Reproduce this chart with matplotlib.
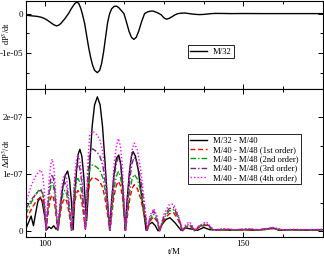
import numpy as np
import matplotlib
matplotlib.use('Agg')
import matplotlib.pyplot as plt
from matplotlib.ticker import MultipleLocator, FuncFormatter

plt.rcParams['font.family'] = ['Liberation Serif', 'DejaVu Serif']
plt.rcParams['mathtext.fontset'] = 'stix'

# Panel superior: dP^3/dt para M/32 (en unidades de 1e-5)
t_top = [95.2, 96.5, 98, 99, 100, 100.8, 101.5, 102.2, 102.9, 103.5, 104, 104.5,
         105, 105.5, 106, 106.5, 107, 107.5, 108, 108.5, 109, 109.4, 110, 110.5,
         111, 111.5, 112, 112.5, 113.2, 113.8, 114.3, 114.8, 115.3, 115.8, 116.3,
         116.8, 117.4, 118, 118.6, 119.3, 119.9, 120.5, 121.2, 121.8, 122.4, 123,
         123.6, 124.3, 125.1, 125.8, 126.5, 127.2, 127.9, 128.6, 129.3, 130,
         130.6, 131.3, 132, 132.8, 133.5, 134.3, 135.2, 136, 137, 138, 139, 140,
         141, 142, 143, 145, 147, 150, 155, 160, 170]
dp_top = [-0.04, -0.055, -0.07, -0.09, -0.13, -0.18, -0.23, -0.28, -0.31, -0.29,
          -0.25, -0.19, -0.13, -0.06, 0.01, 0.10, 0.18, 0.25, 0.29, 0.26, 0.14,
          0.0, -0.25, -0.55, -0.85, -1.10, -1.30, -1.43, -1.49, -1.43, -1.25,
          -0.95, -0.58, -0.22, 0.0, 0.12, 0.18, 0.19, 0.15, 0.07, 0.0, -0.20,
          -0.45, -0.60, -0.65, -0.60, -0.45, -0.22, 0.0, 0.04, 0.06, 0.065, 0.04,
          0.01, -0.03, -0.11, -0.14, -0.12, -0.08, -0.03, 0.0, 0.01, 0.015, 0.005,
          -0.01, -0.02, -0.025, -0.02, -0.01, 0.0, 0.005, 0.003, 0.0, 0.002, 0.0,
          0.0, 0.0]

# Panel inferior: diferencias (en unidades de 1e-7)
t_black = [95.2, 96, 96.5, 97.1, 97.6, 98.2, 98.8, 99.3, 99.9, 100.4, 101, 101.6,
           102.2, 102.8, 103.4, 103.9, 104.5, 105.1, 105.7, 106.2, 106.7, 107.1,
           107.5, 108, 108.4, 108.8, 109.3, 109.8, 110.2, 110.5, 110.9, 111.4,
           111.9, 112.5, 113.2, 113.9, 114.5, 115.1, 115.7, 116.3, 116.8, 117.4,
           118, 118.6, 119.1, 119.7, 120.2, 120.7, 121.3, 121.8, 122.2, 122.8,
           123.5, 124.3, 125, 125.5, 126.2, 127, 127.8, 128.5, 129.5, 130.5,
           131.5, 132.8, 134.3, 135.5, 137, 138.5, 140, 141.5, 144, 147, 150,
           153, 155.5, 157.4, 159, 162, 166, 170]
d_black = [0.05, 0.18, 0.27, 0.10, 0.30, 0.52, 0.60, 0.52, 0.28, 0.03, 0.08, 0.05,
           0.10, 0.04, 0.08, 0.45, 0.78, 0.98, 1.06, 0.90, 0.50, 0.03, 0.60, 1.10,
           1.36, 1.44, 1.32, 0.95, 0.45, 0.19, 0.65, 1.30, 1.85, 2.22, 2.36, 2.22,
           1.85, 1.25, 0.60, 0.02, 0.55, 1.00, 1.28, 1.34, 1.18, 0.65, 0.02, 0.55,
           1.05, 1.32, 1.40, 1.32, 1.08, 0.65, 0.28, 0.02, 0.12, 0.16, 0.10, 0.01,
           0.12, 0.21, 0.24, 0.15, 0.02, 0.06, 0.04, 0.02, 0.07, 0.03, 0.03, 0.02,
           0.03, 0.02, 0.04, 0.06, 0.02, 0.03, 0.02, 0.03]

t_col = [95.2, 96.5, 97.5, 98.3, 99, 99.4, 99.8, 100.05,
         100.3, 100.65, 101.05, 101.45, 101.8, 102.15, 102.5, 102.85,
         103.2, 103.65, 104.1, 104.55, 105, 105.45, 105.85, 106.3,
         106.7, 107.1, 107.5, 107.9, 108.3, 108.8, 109.3, 109.75,
         110.2, 110.5, 110.8, 111.3, 112, 113, 113.8, 114.6, 115.2, 115.8,
         116.4, 116.9, 117.4, 118, 118.5, 119, 119.5, 119.9,
         120.3, 120.85, 121.4, 121.95, 122.5, 123.3, 124.1, 124.95,
         125.8, 126.5, 127.4, 128.2, 128.9, 130, 131.3, 132.4, 133.6, 134.7,
         135.5, 136.4, 137.1, 137.7, 138.8, 140.6, 141.6, 142.5, 145, 148, 151,
         154, 157.4, 160, 163, 166, 170]
d_1st = [0.20, 0.38, 0.50, 0.57, 0.60, 0.55, 0.40, 0.22,
         0.02, 0.24, 0.45, 0.59, 0.64, 0.59, 0.45, 0.24,
         0.02, 0.22, 0.41, 0.53, 0.58, 0.53, 0.41, 0.22,
         0.02, 0.27, 0.51, 0.66, 0.72, 0.66, 0.51, 0.27,
         0.03, 0.35, 0.62, 0.88, 0.95, 0.92, 0.88, 0.76, 0.55, 0.28,
         0.02, 0.33, 0.62, 0.81, 0.88, 0.81, 0.62, 0.33,
         0.02, 0.31, 0.58, 0.75, 0.82, 0.75, 0.58, 0.31,
         0.02, 0.18, 0.26, 0.18, 0.01, 0.20, 0.31, 0.33, 0.20, 0.01,
         0.07, 0.10, 0.06, 0.01, 0.07, 0.11, 0.06, 0.02, 0.03, 0.02, 0.03,
         0.02, 0.05, 0.02, 0.03, 0.02, 0.03]
d_2nd = [0.30, 0.50, 0.63, 0.71, 0.74, 0.68, 0.50, 0.27,
         0.02, 0.33, 0.61, 0.79, 0.86, 0.79, 0.61, 0.33,
         0.02, 0.27, 0.51, 0.66, 0.72, 0.66, 0.51, 0.27,
         0.02, 0.35, 0.66, 0.86, 0.93, 0.86, 0.66, 0.35,
         0.03, 0.42, 0.78, 1.10, 1.17, 1.13, 1.08, 0.94, 0.70, 0.36,
         0.02, 0.40, 0.75, 0.97, 1.05, 0.97, 0.75, 0.40,
         0.02, 0.38, 0.71, 0.92, 1.00, 0.92, 0.71, 0.38,
         0.02, 0.21, 0.30, 0.21, 0.01, 0.24, 0.36, 0.38, 0.24, 0.01,
         0.08, 0.11, 0.07, 0.01, 0.08, 0.13, 0.07, 0.02, 0.03, 0.02, 0.04,
         0.02, 0.05, 0.02, 0.03, 0.02, 0.03]
d_3rd = [0.40, 0.55, 0.64, 0.70, 0.72, 0.66, 0.50, 0.27,
         0.02, 0.38, 0.71, 0.92, 1.00, 0.92, 0.71, 0.38,
         0.02, 0.33, 0.61, 0.79, 0.86, 0.79, 0.61, 0.33,
         0.02, 0.46, 0.85, 1.10, 1.20, 1.10, 0.85, 0.46,
         0.04, 0.52, 0.98, 1.38, 1.45, 1.40, 1.33, 1.15, 0.85, 0.44,
         0.02, 0.49, 0.92, 1.20, 1.30, 1.20, 0.92, 0.49,
         0.02, 0.49, 0.92, 1.20, 1.30, 1.20, 0.92, 0.49,
         0.02, 0.25, 0.36, 0.25, 0.01, 0.27, 0.40, 0.42, 0.27, 0.01,
         0.09, 0.13, 0.08, 0.01, 0.09, 0.14, 0.08, 0.02, 0.04, 0.03, 0.04,
         0.03, 0.06, 0.03, 0.03, 0.03, 0.03]
d_4th = [0.50, 0.80, 0.95, 1.04, 1.08, 1.00, 0.75, 0.40,
         0.03, 0.48, 0.90, 1.17, 1.27, 1.17, 0.90, 0.48,
         0.03, 0.38, 0.71, 0.92, 1.00, 0.92, 0.71, 0.38,
         0.03, 0.51, 0.96, 1.24, 1.35, 1.24, 0.96, 0.51,
         0.05, 0.62, 1.20, 1.70, 1.76, 1.70, 1.62, 1.38, 1.02, 0.52,
         0.03, 0.62, 1.16, 1.50, 1.63, 1.50, 1.16, 0.62,
         0.03, 0.59, 1.10, 1.43, 1.55, 1.43, 1.10, 0.59,
         0.03, 0.28, 0.40, 0.28, 0.02, 0.30, 0.47, 0.48, 0.28, 0.02,
         0.12, 0.17, 0.10, 0.02, 0.10, 0.17, 0.10, 0.03, 0.05, 0.03, 0.05,
         0.03, 0.07, 0.03, 0.04, 0.03, 0.04]

etiquetas = ['M/32 - M/40', 'M/40 - M/48 (1st order)', 'M/40 - M/48 (2nd order)',
             'M/40 - M/48 (3rd order)', 'M/40 - M/48 (4th order)']


def fmt(v, pos):
    if abs(v) < 1e-20:
        return '0'
    return f'{v:.0e}'


fig = plt.figure(figsize=(3.24, 2.6), dpi=100)
ax1 = fig.add_axes([0.080, 0.658, 0.916, 0.340])
ax2 = fig.add_axes([0.080, 0.088, 0.916, 0.570])

ax1.plot(t_top, np.array(dp_top) * 1e-5, color='black', lw=1.0, label='M/32')

ax2.plot(t_black, np.array(d_black) * 1e-7, color='black', lw=1.0, label=etiquetas[0])
ax2.plot(t_col, np.array(d_1st) * 1e-7, color='#ff0000', lw=1.0, dashes=(3.5, 2), label=etiquetas[1])
ax2.plot(t_col, np.array(d_2nd) * 1e-7, color='#00a000', lw=1.0, dashes=(4, 1.5, 1, 1.5), label=etiquetas[2])
ax2.plot(t_col, np.array(d_3rd) * 1e-7, color='#78247c', lw=1.0, dashes=(4, 1.5, 1, 1.5), label=etiquetas[3])
ax2.plot(t_col, np.array(d_4th) * 1e-7, color='#ff00ff', lw=1.0, dashes=(1, 1.5), label=etiquetas[4])

for ax in (ax1, ax2):
    ax.set_xlim(95.2, 170)
    ax.xaxis.set_major_locator(MultipleLocator(50))
    ax.xaxis.set_minor_locator(MultipleLocator(10))
    ax.yaxis.set_major_formatter(FuncFormatter(fmt))
    ax.tick_params(which='both', direction='in', top=True, right=True, labelsize=6.5, pad=2)
    ax.tick_params(which='major', length=3.5, width=0.7)
    ax.tick_params(which='minor', length=2, width=0.7)
    for s in ax.spines.values():
        s.set_linewidth(0.8)

ax1.set_ylim(-1.9e-5, 3.3e-6)
ax1.yaxis.set_major_locator(MultipleLocator(1e-5))
ax1.yaxis.set_minor_locator(MultipleLocator(5e-6))
ax1.tick_params(labelbottom=False)
ax1.set_ylabel('dP$^3$/dt', fontsize=6)
ax1.yaxis.set_label_coords(-0.046, 0.63)

ax2.set_ylim(-1e-8, 2.5e-7)
ax2.yaxis.set_major_locator(MultipleLocator(1e-7))
ax2.yaxis.set_minor_locator(MultipleLocator(5e-8))
ax2.set_ylabel('ΔdP$^3$/dt', fontsize=6)
ax2.yaxis.set_label_coords(-0.046, 0.565)
ax2.set_xlabel('t/M', fontsize=6.5, labelpad=0)

for ax, anc in ((ax1, (0.545, 0.494)), (ax2, (0.545, 0.696))):
    leg = ax.legend(loc='upper left', bbox_to_anchor=anc, fontsize=6.2, frameon=True,
                    fancybox=False, edgecolor='black', framealpha=1, handlelength=2.0,
                    handletextpad=0.6, borderpad=0.3, labelspacing=0.15, borderaxespad=0)
    leg.get_frame().set_linewidth(0.6)

fig.savefig('out.png', dpi=100)
